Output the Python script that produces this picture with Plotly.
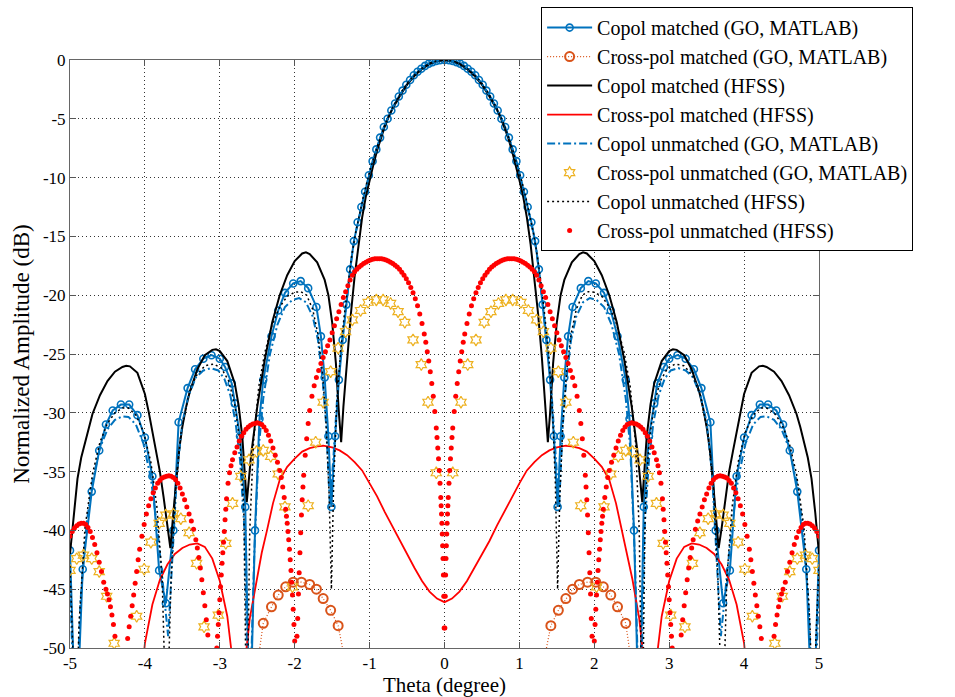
import plotly.graph_objects as go

# ---------------- data: (theta [deg], amplitude [dB]) ----------------
COPOL_MATCHED_GO = [
    (-5.00, -41.7), (-4.92, -58), (-4.83, -43.3), (-4.71, -36.7), (-4.61, -33.2), (-4.52, -31.0),
    (-4.43, -29.8), (-4.32, -29.3), (-4.21, -29.3), (-4.10, -30.2), (-4.00, -32.1), (-3.90, -35.4),
    (-3.81, -43.4), (-3.72, -46.2), (-3.62, -40.0), (-3.55, -30.8), (-3.43, -27.9), (-3.33, -26.3),
    (-3.22, -25.4), (-3.11, -25.1), (-3.00, -25.4), (-2.93, -26.1), (-2.84, -27.5), (-2.80, -29.2),
    (-2.73, -32.0), (-2.66, -38.0), (-2.60, -58), (-2.53, -40.0), (-2.47, -30.5), (-2.42, -27.2),
    (-2.31, -23.5), (-2.22, -21.3), (-2.13, -19.8), (-2.02, -19.0), (-1.92, -18.8), (-1.82, -19.4),
    (-1.71, -21.0), (-1.65, -23.5), (-1.60, -27.0), (-1.55, -32.0), (-1.51, -38.0), (-1.46, -32.0),
    (-1.41, -27.2), (-1.36, -23.8), (-1.31, -20.8), (-1.26, -17.8), (-1.21, -15.4), (-1.16, -13.8),
    (-1.11, -12.5), (-1.06, -11.2), (-1.01, -9.8), (-0.96, -8.6), (-0.91, -7.6), (-0.86, -6.6),
    (-0.81, -5.7), (-0.76, -5.0), (-0.71, -4.3), (-0.66, -3.7), (-0.61, -3.1), (-0.56, -2.6),
    (-0.51, -2.1), (-0.46, -1.7), (-0.41, -1.3), (-0.36, -1.0), (-0.31, -0.75), (-0.26, -0.5),
    (-0.21, -0.32), (-0.16, -0.18), (-0.11, -0.08), (-0.06, -0.02), (0.00, 0.0),
    (0.06, -0.02), (0.11, -0.08), (0.16, -0.18), (0.21, -0.32), (0.26, -0.5), (0.31, -0.75),
    (0.36, -1.0), (0.41, -1.3), (0.46, -1.7), (0.51, -2.1), (0.56, -2.6), (0.61, -3.1),
    (0.66, -3.7), (0.71, -4.3), (0.76, -5.0), (0.81, -5.7), (0.86, -6.6), (0.91, -7.6),
    (0.96, -8.6), (1.01, -9.8), (1.06, -11.2), (1.11, -12.5), (1.16, -13.8), (1.21, -15.4),
    (1.26, -17.8), (1.31, -20.8), (1.36, -23.8), (1.41, -27.2), (1.46, -32.0), (1.51, -38.0),
    (1.55, -32.0), (1.60, -27.0), (1.65, -23.5), (1.71, -21.0), (1.82, -19.4), (1.92, -18.8),
    (2.02, -19.0), (2.13, -19.8), (2.22, -21.3), (2.31, -23.5), (2.42, -27.2), (2.47, -30.5),
    (2.53, -40.0), (2.60, -58), (2.66, -38.0), (2.73, -32.0), (2.80, -29.2), (2.84, -27.5),
    (2.93, -26.1), (3.00, -25.4), (3.11, -25.1), (3.22, -25.4), (3.33, -26.3), (3.43, -27.9),
    (3.55, -30.8), (3.62, -40.0), (3.72, -46.2), (3.81, -43.4), (3.90, -35.4), (4.00, -32.1),
    (4.10, -30.2), (4.21, -29.3), (4.32, -29.3), (4.43, -29.8), (4.52, -31.0), (4.61, -33.2),
    (4.71, -36.7), (4.83, -43.3), (4.92, -58), (5.00, -41.7),
]

CROSS_MATCHED_GO = [
    (-2.50, -51.5), (-2.42, -47.9), (-2.31, -46.5), (-2.22, -45.5), (-2.12, -44.8), (-2.02, -44.4),
    (-1.91, -44.4), (-1.80, -44.6), (-1.71, -45.0), (-1.62, -45.8), (-1.52, -46.8), (-1.42, -48.1),
    (-1.33, -51.0),
    None,
    (1.33, -51.0), (1.42, -48.1), (1.52, -46.8), (1.62, -45.8), (1.71, -45.0), (1.80, -44.6),
    (1.91, -44.4), (2.02, -44.4), (2.12, -44.8), (2.22, -45.5), (2.31, -46.5), (2.42, -47.9),
    (2.50, -51.5),
]

COPOL_MATCHED_HFSS = [
    (-5.00, -42.0), (-4.95, -38.5), (-4.90, -35.6), (-4.85, -33.8), (-4.80, -32.5), (-4.75, -31.2),
    (-4.70, -30.1), (-4.60, -28.5), (-4.50, -27.3), (-4.40, -26.5), (-4.30, -26.1), (-4.25, -26.0),
    (-4.20, -26.05), (-4.10, -26.6), (-4.00, -28.4), (-3.95, -29.9), (-3.90, -31.6), (-3.85, -33.3),
    (-3.80, -35.0), (-3.75, -37.2), (-3.70, -39.8), (-3.66, -41.5), (-3.62, -38.5), (-3.58, -35.5),
    (-3.54, -33.0), (-3.50, -31.2), (-3.45, -29.5), (-3.40, -28.2), (-3.30, -26.3), (-3.20, -25.1),
    (-3.10, -24.65), (-3.05, -24.6), (-3.00, -24.75), (-2.90, -25.6), (-2.80, -27.5), (-2.75, -29.3),
    (-2.70, -32.0), (-2.64, -37.6), (-2.58, -33.5), (-2.50, -29.5), (-2.40, -25.5), (-2.30, -22.3),
    (-2.20, -20.0), (-2.10, -18.3), (-2.00, -17.1), (-1.90, -16.45), (-1.85, -16.35), (-1.80, -16.5),
    (-1.70, -17.2), (-1.60, -18.7), (-1.55, -20.0), (-1.50, -22.3), (-1.45, -25.8), (-1.41, -30.0),
    (-1.38, -32.5), (-1.35, -29.5), (-1.30, -25.3), (-1.25, -21.6), (-1.20, -18.4), (-1.15, -15.7),
    (-1.10, -13.4), (-1.05, -11.6), (-1.00, -10.2), (-0.95, -8.9), (-0.90, -7.7), (-0.85, -6.6),
    (-0.80, -5.7), (-0.75, -4.9), (-0.70, -4.2), (-0.60, -3.1), (-0.50, -2.1), (-0.40, -1.35),
    (-0.30, -0.75), (-0.20, -0.33), (-0.10, -0.08), (0.00, 0.0),
    (0.10, -0.08), (0.20, -0.33), (0.30, -0.75), (0.40, -1.35), (0.50, -2.1), (0.60, -3.1),
    (0.70, -4.2), (0.75, -4.9), (0.80, -5.7), (0.85, -6.6), (0.90, -7.7), (0.95, -8.9),
    (1.00, -10.2), (1.05, -11.6), (1.10, -13.4), (1.15, -15.7), (1.20, -18.4), (1.25, -21.6),
    (1.30, -25.3), (1.35, -29.5), (1.38, -32.5), (1.41, -30.0), (1.45, -25.8), (1.50, -22.3),
    (1.55, -20.0), (1.60, -18.7), (1.70, -17.2), (1.80, -16.5), (1.85, -16.35), (1.90, -16.45),
    (2.00, -17.1), (2.10, -18.3), (2.20, -20.0), (2.30, -22.3), (2.40, -25.5), (2.50, -29.5),
    (2.58, -33.5), (2.64, -37.6), (2.70, -32.0), (2.75, -29.3), (2.80, -27.5), (2.90, -25.6),
    (3.00, -24.75), (3.05, -24.6), (3.10, -24.65), (3.20, -25.1), (3.30, -26.3), (3.40, -28.2),
    (3.45, -29.5), (3.50, -31.2), (3.54, -33.0), (3.58, -35.5), (3.62, -38.5), (3.66, -41.5),
    (3.70, -39.8), (3.75, -37.2), (3.80, -35.0), (3.85, -33.3), (3.90, -31.6), (3.95, -29.9),
    (4.00, -28.4), (4.10, -26.6), (4.20, -26.05), (4.25, -26.0), (4.30, -26.1), (4.40, -26.5),
    (4.50, -27.3), (4.60, -28.5), (4.70, -30.1), (4.75, -31.2), (4.80, -32.5), (4.85, -33.8),
    (4.90, -35.6), (4.95, -38.5), (5.00, -42.0),
]

CROSS_MATCHED_HFSS = [
    (-4.05, -53.0), (-4.00, -49.6), (-3.90, -46.3), (-3.80, -44.2), (-3.70, -42.9), (-3.60, -42.0),
    (-3.50, -41.5), (-3.40, -41.2), (-3.30, -41.1), (-3.20, -41.4), (-3.10, -42.4), (-3.00, -44.3),
    (-2.90, -47.3), (-2.84, -50.5), (-2.75, -60.0), (-2.66, -51.0), (-2.60, -47.5), (-2.51, -44.2),
    (-2.44, -41.9), (-2.37, -40.0), (-2.29, -37.7), (-2.20, -35.7), (-2.10, -34.6), (-2.00, -33.9),
    (-1.90, -33.3), (-1.80, -33.0), (-1.70, -32.85), (-1.62, -32.8), (-1.50, -32.95), (-1.40, -33.2),
    (-1.30, -33.6), (-1.20, -34.2), (-1.10, -34.9), (-1.00, -36.0), (-0.90, -37.1), (-0.80, -38.4),
    (-0.70, -39.6), (-0.60, -40.9), (-0.50, -42.1), (-0.40, -43.2), (-0.30, -44.3), (-0.20, -45.2),
    (-0.10, -45.8), (0.00, -46.1),
    (0.10, -45.8), (0.20, -45.2), (0.30, -44.3), (0.40, -43.2), (0.50, -42.1), (0.60, -40.9),
    (0.70, -39.6), (0.80, -38.4), (0.90, -37.1), (1.00, -36.0), (1.10, -34.9), (1.20, -34.2),
    (1.30, -33.6), (1.40, -33.2), (1.50, -32.95), (1.62, -32.8), (1.70, -32.85), (1.80, -33.0),
    (1.90, -33.3), (2.00, -33.9), (2.10, -34.6), (2.20, -35.7), (2.29, -37.7), (2.37, -40.0),
    (2.44, -41.9), (2.51, -44.2), (2.60, -47.5), (2.66, -51.0), (2.75, -60.0), (2.84, -50.5),
    (2.90, -47.3), (3.00, -44.3), (3.10, -42.4), (3.20, -41.4), (3.30, -41.1), (3.40, -41.2),
    (3.50, -41.5), (3.60, -42.0), (3.70, -42.9), (3.80, -44.2), (3.90, -46.3), (4.00, -49.6),
    (4.05, -53.0),
]

COPOL_UNMATCHED_GO = [
    (-5.00, -44.5), (-4.93, -58), (-4.86, -46.0), (-4.78, -39.5), (-4.70, -35.8), (-4.60, -33.0),
    (-4.50, -31.4), (-4.40, -30.6), (-4.30, -30.3), (-4.22, -30.35), (-4.12, -31.0), (-4.02, -32.6),
    (-3.92, -35.6), (-3.84, -39.5), (-3.76, -44.5), (-3.69, -49.0), (-3.63, -42.0), (-3.57, -35.0),
    (-3.50, -30.8), (-3.42, -28.6), (-3.32, -27.0), (-3.22, -26.4), (-3.12, -26.2), (-3.02, -26.4),
    (-2.94, -27.1), (-2.86, -28.5), (-2.79, -30.8), (-2.73, -34.0), (-2.67, -40.0), (-2.61, -58),
    (-2.54, -42.0), (-2.48, -33.0), (-2.42, -28.8), (-2.33, -25.0), (-2.23, -22.5), (-2.13, -21.0),
    (-2.03, -20.4), (-1.94, -20.25), (-1.85, -20.6), (-1.76, -21.8), (-1.69, -23.8), (-1.63, -27.0),
    (-1.58, -31.0), (-1.53, -38.0), (-1.48, -33.5), (-1.43, -28.4), (-1.38, -24.6), (-1.33, -21.7),
    (-1.28, -18.9), (-1.23, -16.3), (-1.18, -14.5), (-1.13, -13.0), (-1.08, -11.7), (-1.03, -10.4),
    (-0.98, -9.1), (-0.88, -7.0), (-0.78, -5.25), (-0.68, -3.9), (-0.58, -2.8), (-0.48, -1.85),
    (-0.38, -1.15), (-0.28, -0.6), (-0.18, -0.22), (-0.08, -0.04), (0.00, 0.0),
    (0.08, -0.04), (0.18, -0.22), (0.28, -0.6), (0.38, -1.15), (0.48, -1.85), (0.58, -2.8),
    (0.68, -3.9), (0.78, -5.25), (0.88, -7.0), (0.98, -9.1), (1.03, -10.4), (1.08, -11.7),
    (1.13, -13.0), (1.18, -14.5), (1.23, -16.3), (1.28, -18.9), (1.33, -21.7), (1.38, -24.6),
    (1.43, -28.4), (1.48, -33.5), (1.53, -38.0), (1.58, -31.0), (1.63, -27.0), (1.69, -23.8),
    (1.76, -21.8), (1.85, -20.6), (1.94, -20.25), (2.03, -20.4), (2.13, -21.0), (2.23, -22.5),
    (2.33, -25.0), (2.42, -28.8), (2.48, -33.0), (2.54, -42.0), (2.61, -58), (2.67, -40.0),
    (2.73, -34.0), (2.79, -30.8), (2.86, -28.5), (2.94, -27.1), (3.02, -26.4), (3.12, -26.2),
    (3.22, -26.4), (3.32, -27.0), (3.42, -28.6), (3.50, -30.8), (3.57, -35.0), (3.63, -42.0),
    (3.69, -49.0), (3.76, -44.5), (3.84, -39.5), (3.92, -35.6), (4.02, -32.6), (4.12, -31.0),
    (4.22, -30.35), (4.30, -30.3), (4.40, -30.6), (4.50, -31.4), (4.60, -33.0), (4.70, -35.8),
    (4.78, -39.5), (4.86, -46.0), (4.93, -58), (5.00, -44.5),
]

CROSS_UNMATCHED_GO = [
    (-5.00, -43.4), (-4.91, -42.4), (-4.82, -42.1), (-4.71, -42.4), (-4.61, -43.5), (-4.51, -45.6),
    (-4.41, -49.6), (-4.11, -47.3), (-4.01, -43.3), (-3.92, -41.0), (-3.81, -39.4), (-3.72, -38.7),
    (-3.62, -38.6), (-3.52, -39.0), (-3.41, -40.2), (-3.31, -42.8), (-3.21, -48.2), (-3.02, -47.2),
    (-2.92, -41.1), (-2.83, -37.7), (-2.72, -35.4), (-2.61, -34.0), (-2.51, -33.3), (-2.42, -33.2),
    (-2.32, -33.7), (-2.22, -35.2), (-2.13, -38.0), (-2.03, -44.8), (-1.82, -37.9), (-1.72, -32.5),
    (-1.62, -29.1), (-1.52, -26.5), (-1.42, -24.5), (-1.32, -23.1), (-1.23, -22.1), (-1.12, -21.3),
    (-1.02, -20.6), (-0.91, -20.4), (-0.82, -20.4), (-0.72, -20.7), (-0.62, -21.4), (-0.53, -22.3),
    (-0.42, -23.8), (-0.31, -25.9), (-0.22, -29.1), (-0.11, -35.1),
    (0.11, -35.1), (0.22, -29.1), (0.31, -25.9), (0.42, -23.8), (0.53, -22.3), (0.62, -21.4),
    (0.72, -20.7), (0.82, -20.4), (0.91, -20.4), (1.02, -20.6), (1.12, -21.3), (1.23, -22.1),
    (1.32, -23.1), (1.42, -24.5), (1.52, -26.5), (1.62, -29.1), (1.72, -32.5), (1.82, -37.9),
    (2.03, -44.8), (2.13, -38.0), (2.22, -35.2), (2.32, -33.7), (2.42, -33.2), (2.51, -33.3),
    (2.61, -34.0), (2.72, -35.4), (2.83, -37.7), (2.92, -41.1), (3.02, -47.2), (3.21, -48.2),
    (3.31, -42.8), (3.41, -40.2), (3.52, -39.0), (3.62, -38.6), (3.72, -38.7), (3.81, -39.4),
    (3.92, -41.0), (4.01, -43.3), (4.11, -47.3), (4.41, -49.6), (4.51, -45.6), (4.61, -43.5),
    (4.71, -42.4), (4.82, -42.1), (4.91, -42.4), (5.00, -43.4),
]

COPOL_UNMATCHED_HFSS = [
    (-5.00, -43.0), (-4.96, -49.0), (-4.92, -58), (-4.88, -48.0), (-4.80, -39.8), (-4.70, -35.2),
    (-4.60, -32.5), (-4.50, -30.9), (-4.40, -30.0), (-4.30, -29.6), (-4.22, -29.6), (-4.12, -30.2),
    (-4.02, -31.6), (-3.92, -34.2), (-3.84, -38.0), (-3.77, -44.0), (-3.71, -58), (-3.65, -44.0),
    (-3.59, -36.5), (-3.52, -31.8), (-3.42, -28.6), (-3.32, -26.9), (-3.20, -26.0), (-3.08, -25.85),
    (-2.98, -26.2), (-2.88, -27.3), (-2.80, -29.3), (-2.73, -32.5), (-2.68, -38.0), (-2.64, -58),
    (-2.60, -40.0), (-2.55, -32.5), (-2.48, -27.8), (-2.40, -24.9), (-2.30, -22.5), (-2.20, -21.0),
    (-2.10, -20.1), (-2.00, -19.75), (-1.92, -19.7), (-1.84, -20.0), (-1.76, -21.2), (-1.69, -23.3),
    (-1.63, -26.5), (-1.58, -31.0), (-1.54, -37.0), (-1.51, -45.0), (-1.48, -36.0), (-1.44, -29.5),
    (-1.39, -25.0), (-1.34, -21.8), (-1.29, -19.0), (-1.24, -16.7), (-1.19, -14.8), (-1.14, -13.2),
    (-1.09, -11.8), (-1.04, -10.5), (-0.99, -9.3), (-0.89, -7.2), (-0.79, -5.4), (-0.69, -4.0),
    (-0.59, -2.85), (-0.49, -1.9), (-0.39, -1.2), (-0.29, -0.65), (-0.19, -0.25), (-0.09, -0.05),
    (0.00, 0.0),
    (0.09, -0.05), (0.19, -0.25), (0.29, -0.65), (0.39, -1.2), (0.49, -1.9), (0.59, -2.85),
    (0.69, -4.0), (0.79, -5.4), (0.89, -7.2), (0.99, -9.3), (1.04, -10.5), (1.09, -11.8),
    (1.14, -13.2), (1.19, -14.8), (1.24, -16.7), (1.29, -19.0), (1.34, -21.8), (1.39, -25.0),
    (1.44, -29.5), (1.48, -36.0), (1.51, -45.0), (1.54, -37.0), (1.58, -31.0), (1.63, -26.5),
    (1.69, -23.3), (1.76, -21.2), (1.84, -20.0), (1.92, -19.7), (2.00, -19.75), (2.10, -20.1),
    (2.20, -21.0), (2.30, -22.5), (2.40, -24.9), (2.48, -27.8), (2.55, -32.5), (2.60, -40.0),
    (2.64, -58), (2.68, -38.0), (2.73, -32.5), (2.80, -29.3), (2.88, -27.3), (2.98, -26.2),
    (3.08, -25.85), (3.20, -26.0), (3.32, -26.9), (3.42, -28.6), (3.52, -31.8), (3.59, -36.5),
    (3.65, -44.0), (3.71, -58), (3.77, -44.0), (3.84, -38.0), (3.92, -34.2), (4.02, -31.6),
    (4.12, -30.2), (4.22, -29.6), (4.30, -29.6), (4.40, -30.0), (4.50, -30.9), (4.60, -32.5),
    (4.70, -35.2), (4.80, -39.8), (4.88, -48.0), (4.92, -58), (4.96, -49.0), (5.00, -43.0),
]

CROSS_UNMATCHED_HFSS = [
    (-5.00, -40.5), (-4.97, -40.1), (-4.94, -39.8), (-4.91, -39.6), (-4.88, -39.45), (-4.85, -39.4),
    (-4.82, -39.4), (-4.79, -39.5), (-4.76, -39.75), (-4.73, -40.1), (-4.70, -40.6), (-4.67, -41.2),
    (-4.64, -41.9), (-4.61, -42.7), (-4.58, -43.5), (-4.55, -44.4), (-4.52, -45.0), (-4.50, -45.4),
    (-4.48, -45.9), (-4.46, -46.5), (-4.44, -47.2), (-4.42, -48.0), (-4.40, -49.0), (-4.38, -50.3),
    (-4.25, -50.4), (-4.23, -49.2), (-4.21, -48.2), (-4.19, -47.3), (-4.17, -46.4), (-4.15, -45.5),
    (-4.13, -44.5), (-4.11, -43.5), (-4.09, -42.5), (-4.07, -41.6), (-4.04, -40.5), (-4.01, -39.5),
    (-3.98, -38.6), (-3.95, -37.9), (-3.92, -37.3), (-3.89, -36.8), (-3.86, -36.4), (-3.83, -36.0),
    (-3.80, -35.75), (-3.77, -35.55), (-3.74, -35.45), (-3.71, -35.4), (-3.68, -35.35), (-3.65, -35.4),
    (-3.62, -35.5), (-3.59, -35.7), (-3.56, -36.0), (-3.53, -36.4), (-3.50, -36.9), (-3.47, -37.4),
    (-3.44, -38.0), (-3.41, -38.6), (-3.38, -39.2), (-3.35, -39.9), (-3.32, -40.8), (-3.30, -41.5),
    (-3.28, -42.3), (-3.26, -43.2), (-3.24, -44.2), (-3.22, -45.3), (-3.20, -46.4), (-3.18, -47.6),
    (-3.16, -48.9), (-3.14, -50.3),
    (-3.05, -51.0), (-3.04, -50.0), (-3.03, -49.0), (-3.02, -48.0), (-3.01, -47.0), (-3.00, -45.9),
    (-2.99, -44.8), (-2.98, -43.8), (-2.97, -42.8), (-2.96, -41.9), (-2.95, -41.0), (-2.94, -40.1),
    (-2.93, -39.1), (-2.92, -38.2), (-2.91, -37.3), (-2.89, -36.0), (-2.87, -35.1), (-2.85, -34.5),
    (-2.83, -34.0), (-2.80, -33.4), (-2.77, -32.9), (-2.74, -32.4), (-2.71, -32.0), (-2.68, -31.7),
    (-2.65, -31.4), (-2.62, -31.2), (-2.59, -31.05), (-2.56, -30.95), (-2.53, -30.9), (-2.50, -30.85),
    (-2.47, -30.9), (-2.44, -31.0), (-2.41, -31.2), (-2.38, -31.5), (-2.35, -31.9), (-2.32, -32.4),
    (-2.29, -33.0), (-2.26, -33.6), (-2.23, -34.2), (-2.20, -34.9), (-2.18, -35.5), (-2.16, -36.3),
    (-2.14, -37.2), (-2.12, -38.2), (-2.11, -38.8), (-2.10, -39.4), (-2.09, -40.1), (-2.08, -40.8),
    (-2.07, -41.6), (-2.06, -42.5), (-2.05, -43.4), (-2.04, -44.4), (-2.03, -45.5), (-2.02, -46.7),
    (-2.01, -48.0), (-2.00, -49.4),
    (-1.97, -49.0), (-1.96, -47.5), (-1.95, -45.4), (-1.94, -43.6), (-1.93, -41.9), (-1.92, -40.2),
    (-1.91, -38.7), (-1.90, -37.4), (-1.89, -36.3), (-1.88, -35.3), (-1.86, -33.6), (-1.84, -32.2),
    (-1.82, -30.9), (-1.80, -29.8), (-1.77, -28.6), (-1.74, -27.7), (-1.71, -27.0), (-1.68, -26.4),
    (-1.65, -25.8), (-1.62, -25.3), (-1.59, -24.8), (-1.56, -24.3), (-1.53, -23.8), (-1.50, -23.2),
    (-1.47, -22.6), (-1.44, -22.0), (-1.41, -21.4), (-1.38, -20.8), (-1.35, -20.2), (-1.32, -19.7),
    (-1.29, -19.2), (-1.26, -18.7), (-1.23, -18.3), (-1.20, -18.0), (-1.17, -17.8), (-1.14, -17.6),
    (-1.11, -17.45), (-1.08, -17.3), (-1.05, -17.2), (-1.02, -17.1), (-0.99, -17.0), (-0.96, -16.95),
    (-0.93, -16.9), (-0.90, -16.9), (-0.87, -16.9), (-0.84, -16.9), (-0.81, -16.95), (-0.78, -17.0),
    (-0.75, -17.1), (-0.72, -17.2), (-0.69, -17.3), (-0.66, -17.45), (-0.63, -17.6), (-0.60, -17.8),
    (-0.57, -18.05), (-0.54, -18.3), (-0.51, -18.6), (-0.48, -18.95), (-0.45, -19.35), (-0.42, -19.8),
    (-0.39, -20.3), (-0.36, -20.9), (-0.33, -21.6), (-0.30, -22.4), (-0.27, -23.3), (-0.25, -24.0),
    (-0.23, -24.8), (-0.21, -25.6), (-0.19, -26.5), (-0.17, -27.5), (-0.15, -28.6), (-0.13, -29.9),
    (-0.11, -31.3), (-0.10, -32.1), (-0.09, -33.0), (-0.08, -33.9), (-0.07, -34.9), (-0.06, -36.0),
    (-0.05, -37.2), (-0.045, -37.9), (-0.04, -38.6), (-0.035, -39.4), (-0.03, -40.3), (-0.025, -41.3),
    (-0.02, -42.4), (-0.015, -43.8), (-0.01, -45.6), (-0.005, -48.3),
    (0.005, -48.3), (0.01, -45.6), (0.015, -43.8), (0.02, -42.4), (0.025, -41.3), (0.03, -40.3),
    (0.035, -39.4), (0.04, -38.6), (0.045, -37.9), (0.05, -37.2), (0.06, -36.0), (0.07, -34.9),
    (0.08, -33.9), (0.09, -33.0), (0.10, -32.1), (0.11, -31.3), (0.13, -29.9), (0.15, -28.6),
    (0.17, -27.5), (0.19, -26.5), (0.21, -25.6), (0.23, -24.8), (0.25, -24.0), (0.27, -23.3),
    (0.30, -22.4), (0.33, -21.6), (0.36, -20.9), (0.39, -20.3), (0.42, -19.8), (0.45, -19.35),
    (0.48, -18.95), (0.51, -18.6), (0.54, -18.3), (0.57, -18.05), (0.60, -17.8), (0.63, -17.6),
    (0.66, -17.45), (0.69, -17.3), (0.72, -17.2), (0.75, -17.1), (0.78, -17.0), (0.81, -16.95),
    (0.84, -16.9), (0.87, -16.9), (0.90, -16.9), (0.93, -16.9), (0.96, -16.95), (0.99, -17.0),
    (1.02, -17.1), (1.05, -17.2), (1.08, -17.3), (1.11, -17.45), (1.14, -17.6), (1.17, -17.8),
    (1.20, -18.0), (1.23, -18.3), (1.26, -18.7), (1.29, -19.2), (1.32, -19.7), (1.35, -20.2),
    (1.38, -20.8), (1.41, -21.4), (1.44, -22.0), (1.47, -22.6), (1.50, -23.2), (1.53, -23.8),
    (1.56, -24.3), (1.59, -24.8), (1.62, -25.3), (1.65, -25.8), (1.68, -26.4), (1.71, -27.0),
    (1.74, -27.7), (1.77, -28.6), (1.80, -29.8), (1.82, -30.9), (1.84, -32.2), (1.86, -33.6),
    (1.88, -35.3), (1.89, -36.3), (1.90, -37.4), (1.91, -38.7), (1.92, -40.2), (1.93, -41.9),
    (1.94, -43.6), (1.95, -45.4), (1.96, -47.5), (1.97, -49.0),
    (2.00, -49.4), (2.01, -48.0), (2.02, -46.7), (2.03, -45.5), (2.04, -44.4), (2.05, -43.4),
    (2.06, -42.5), (2.07, -41.6), (2.08, -40.8), (2.09, -40.1), (2.10, -39.4), (2.11, -38.8),
    (2.12, -38.2), (2.14, -37.2), (2.16, -36.3), (2.18, -35.5), (2.20, -34.9), (2.23, -34.2),
    (2.26, -33.6), (2.29, -33.0), (2.32, -32.4), (2.35, -31.9), (2.38, -31.5), (2.41, -31.2),
    (2.44, -31.0), (2.47, -30.9), (2.50, -30.85), (2.53, -30.9), (2.56, -30.95), (2.59, -31.05),
    (2.62, -31.2), (2.65, -31.4), (2.68, -31.7), (2.71, -32.0), (2.74, -32.4), (2.77, -32.9),
    (2.80, -33.4), (2.83, -34.0), (2.85, -34.5), (2.87, -35.1), (2.89, -36.0), (2.91, -37.3),
    (2.92, -38.2), (2.93, -39.1), (2.94, -40.1), (2.95, -41.0), (2.96, -41.9), (2.97, -42.8),
    (2.98, -43.8), (2.99, -44.8), (3.00, -45.9), (3.01, -47.0), (3.02, -48.0), (3.03, -49.0),
    (3.04, -50.0), (3.05, -51.0),
    (3.14, -50.3), (3.16, -48.9), (3.18, -47.6), (3.20, -46.4), (3.22, -45.3), (3.24, -44.2),
    (3.26, -43.2), (3.28, -42.3), (3.30, -41.5), (3.32, -40.8), (3.35, -39.9), (3.38, -39.2),
    (3.41, -38.6), (3.44, -38.0), (3.47, -37.4), (3.50, -36.9), (3.53, -36.4), (3.56, -36.0),
    (3.59, -35.7), (3.62, -35.5), (3.65, -35.4), (3.68, -35.35), (3.71, -35.4), (3.74, -35.45),
    (3.77, -35.55), (3.80, -35.75), (3.83, -36.0), (3.86, -36.4), (3.89, -36.8), (3.92, -37.3),
    (3.95, -37.9), (3.98, -38.6), (4.01, -39.5), (4.04, -40.5), (4.07, -41.6), (4.09, -42.5),
    (4.11, -43.5), (4.13, -44.5), (4.15, -45.5), (4.17, -46.4), (4.19, -47.3), (4.21, -48.2),
    (4.23, -49.2), (4.25, -50.4),
    (4.38, -50.3), (4.40, -49.0), (4.42, -48.0), (4.44, -47.2), (4.46, -46.5), (4.48, -45.9),
    (4.50, -45.4), (4.52, -45.0), (4.55, -44.4), (4.58, -43.5), (4.61, -42.7), (4.64, -41.9),
    (4.67, -41.2), (4.70, -40.6), (4.73, -40.1), (4.76, -39.75), (4.79, -39.5), (4.82, -39.4),
    (4.85, -39.4), (4.88, -39.45), (4.91, -39.6), (4.94, -39.8), (4.97, -40.1), (5.00, -40.5),
]

X_TICKS = [-5, -4, -3, -2, -1, 0, 1, 2, 3, 4, 5]
Y_TICKS = [0, -5, -10, -15, -20, -25, -30, -35, -40, -45, -50]


def split(pairs):
    xs, ys = [], []
    for p in pairs:
        if p is None:
            xs.append(None)
            ys.append(None)
        else:
            xs.append(p[0])
            ys.append(p[1])
    return xs, ys


BLUE = '#0072BD'
ORANGE = '#D95319'
YELLOW = '#EDB120'
RED = '#FF0000'

fig = go.Figure()

x, y = split(COPOL_MATCHED_GO)
fig.add_trace(go.Scatter(x=x, y=y, mode='lines+markers', name='Copol matched (GO, MATLAB)',
                         line=dict(color=BLUE, width=2),
                         marker=dict(symbol='circle-open', size=7, color=BLUE,
                                     line=dict(color=BLUE, width=1.6))))

x, y = split(CROSS_MATCHED_GO)
fig.add_trace(go.Scatter(x=x, y=y, mode='lines+markers', name='Cross-pol matched (GO, MATLAB)',
                         line=dict(color=ORANGE, width=1.2, dash='1px,2px'),
                         marker=dict(symbol='circle-open', size=9, color=ORANGE,
                                     line=dict(color=ORANGE, width=2))))

x, y = split(COPOL_MATCHED_HFSS)
fig.add_trace(go.Scatter(x=x, y=y, mode='lines', name='Copol matched (HFSS)',
                         line=dict(color='black', width=2)))

x, y = split(CROSS_MATCHED_HFSS)
fig.add_trace(go.Scatter(x=x, y=y, mode='lines', name='Cross-pol matched (HFSS)',
                         line=dict(color=RED, width=1.8)))

x, y = split(COPOL_UNMATCHED_GO)
fig.add_trace(go.Scatter(x=x, y=y, mode='lines', name='Copol unmatched (GO, MATLAB)',
                         line=dict(color=BLUE, width=2, dash='8px,3px,2px,3px')))

x, y = split(CROSS_UNMATCHED_GO)
fig.add_trace(go.Scatter(x=x, y=y, mode='markers', name='Cross-pol unmatched (GO, MATLAB)',
                         marker=dict(symbol='hexagram-open', size=9, color=YELLOW,
                                     line=dict(color=YELLOW, width=1.2))))

x, y = split(COPOL_UNMATCHED_HFSS)
fig.add_trace(go.Scatter(x=x, y=y, mode='lines', name='Copol unmatched (HFSS)',
                         line=dict(color='black', width=1.5, dash='2px,3px')))

x, y = split(CROSS_UNMATCHED_HFSS)
fig.add_trace(go.Scatter(x=x, y=y, mode='markers', name='Cross-pol unmatched (HFSS)',
                         marker=dict(symbol='circle', size=5, color=RED)))

FONT = '"Times New Roman", "Liberation Serif", Tinos, "Nimbus Roman", "DejaVu Serif", serif'

axis_common = dict(
    showline=True, linecolor='#666666', linewidth=1, mirror='ticks',
    ticks='inside', ticklen=6, tickcolor='#555555', tickwidth=1,
    showgrid=True, gridcolor='#333333', gridwidth=1, griddash='1px,3px',
    zeroline=False, tickfont=dict(family=FONT, size=17, color='black'),
)

fig.update_xaxes(range=[-5, 5], tickmode='array', tickvals=X_TICKS,
                 ticktext=[str(v) for v in X_TICKS],
                 title=dict(text='Theta (degree)', font=dict(family=FONT, size=21, color='black'),
                            standoff=0),
                 **axis_common)
fig.update_yaxes(range=[-50, 0], tickmode='array', tickvals=Y_TICKS,
                 ticktext=[str(v) for v in Y_TICKS],
                 title=dict(text='Normalized Amplitude (dB)',
                            font=dict(family=FONT, size=23, color='black'), standoff=6),
                 **axis_common)

fig.update_layout(
    width=955, height=697,
    margin=dict(l=70, r=136, t=60, b=49, autoexpand=False),
    paper_bgcolor='white', plot_bgcolor='white',
    font=dict(family=FONT, color='black'),
    showlegend=True,
    legend=dict(x=0.629, y=1.09, xanchor='left', yanchor='top',
                bgcolor='white', bordercolor='black', borderwidth=1,
                font=dict(family=FONT, size=20, color='black'),
                itemwidth=45, tracegroupgap=0,
                entrywidth=355, entrywidthmode='pixels'),
)

fig.write_html('out.html')
